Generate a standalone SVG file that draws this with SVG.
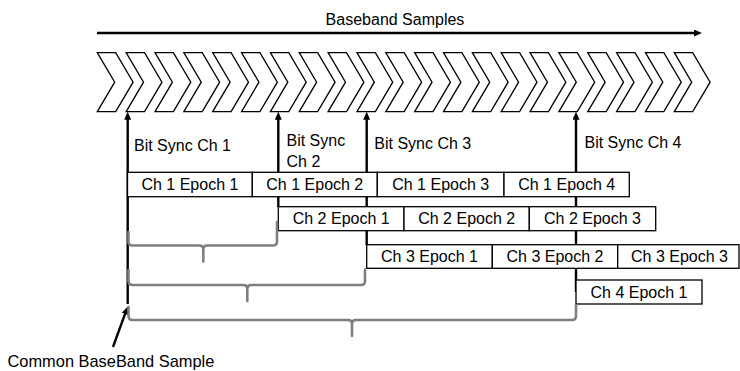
<svg xmlns="http://www.w3.org/2000/svg" xmlns:xlink="http://www.w3.org/1999/xlink" width="740" height="371" viewBox="0 0 740 371">
  <style>
    text { font-family: "Liberation Sans", Arial, sans-serif; font-size: 16px; fill: #000; }
    .mid { text-anchor: middle; }
    .box { fill: #fff; stroke: #000; stroke-width: 1.3; }
    .chev { fill: #fff; stroke: #000; stroke-width: 1.3; stroke-linejoin: miter; }
    .wire { fill: none; stroke: #000; stroke-width: 2.4; }
    .brace { fill: none; stroke: #7f7f7f; stroke-width: 2.6; stroke-linecap: round; stroke-linejoin: round; }
  </style>
  <defs>
    <marker id="head" viewBox="0 0 8 7" markerWidth="8" markerHeight="7" markerUnits="userSpaceOnUse" refX="2" refY="3.5" orient="auto">
      <path d="M0,0 L8,3.5 L0,7 Z" fill="#000"/>
    </marker>
    <polygon id="chevron" class="chev" points="0,0 18.4,0 35.8,29.5 18.4,59 0,59 17.4,29.5"/>
  </defs>

  <rect width="740" height="371" fill="#fff"/>

  <!-- time axis -->
  <g id="axis">
    <text class="mid" x="395" y="25">Baseband Samples</text>
    <line class="wire" x1="97" y1="33" x2="696" y2="33" marker-end="url(#head)"/>
  </g>

  <!-- stream of samples -->
  <g id="samples" transform="translate(0,52.7)">
    <use xlink:href="#chevron" x="97.3"/>
    <use xlink:href="#chevron" x="126.15"/>
    <use xlink:href="#chevron" x="155"/>
    <use xlink:href="#chevron" x="183.85"/>
    <use xlink:href="#chevron" x="212.7"/>
    <use xlink:href="#chevron" x="241.55"/>
    <use xlink:href="#chevron" x="270.4"/>
    <use xlink:href="#chevron" x="299.25"/>
    <use xlink:href="#chevron" x="328.1"/>
    <use xlink:href="#chevron" x="356.95"/>
    <use xlink:href="#chevron" x="385.8"/>
    <use xlink:href="#chevron" x="414.65"/>
    <use xlink:href="#chevron" x="443.5"/>
    <use xlink:href="#chevron" x="472.35"/>
    <use xlink:href="#chevron" x="501.2"/>
    <use xlink:href="#chevron" x="530.05"/>
    <use xlink:href="#chevron" x="558.9"/>
    <use xlink:href="#chevron" x="587.75"/>
    <use xlink:href="#chevron" x="616.6"/>
    <use xlink:href="#chevron" x="645.45"/>
    <use xlink:href="#chevron" x="674.3"/>
  </g>

  <!-- bit sync markers -->
  <g id="connectors">
    <line class="wire" x1="127.7" y1="304" x2="127.7" y2="117.7" marker-end="url(#head)"/>
    <line class="wire" x1="278.3" y1="207" x2="278.3" y2="117.7" marker-end="url(#head)"/>
    <line class="wire" x1="366.7" y1="245" x2="366.7" y2="117.7" marker-end="url(#head)"/>
    <line class="wire" x1="576" y1="292" x2="576" y2="117.7" marker-end="url(#head)"/>
    <line class="wire" x1="113" y1="347" x2="125.7" y2="312.1" marker-end="url(#head)"/>
  </g>

  <g id="sync-labels">
    <text x="134" y="151">Bit Sync Ch 1</text>
    <text x="286.5" y="145.5">Bit Sync</text>
    <text x="286.5" y="167">Ch 2</text>
    <text x="374.3" y="149">Bit Sync Ch 3</text>
    <text x="584.5" y="147.5">Bit Sync Ch 4</text>
  </g>

  <!-- channel 1 epochs -->
  <g id="ch1-epoch1"><rect class="box" x="127.5" y="172.3" width="124.8" height="24.4"/><text class="mid" x="189.9" y="190.2">Ch 1 Epoch 1</text></g>
  <g id="ch1-epoch2"><rect class="box" x="252.3" y="172.3" width="125" height="24.4"/><text class="mid" x="314.8" y="190.2">Ch 1 Epoch 2</text></g>
  <g id="ch1-epoch3"><rect class="box" x="377.3" y="172.3" width="126.7" height="24.4"/><text class="mid" x="440.7" y="190.2">Ch 1 Epoch 3</text></g>
  <g id="ch1-epoch4"><rect class="box" x="504" y="172.3" width="125.3" height="24.4"/><text class="mid" x="566.7" y="190.2">Ch 1 Epoch 4</text></g>

  <!-- channel 2 epochs -->
  <g id="ch2-epoch1"><rect class="box" x="278.3" y="206.7" width="125.7" height="24"/><text class="mid" x="341.2" y="224.4">Ch 2 Epoch 1</text></g>
  <g id="ch2-epoch2"><rect class="box" x="404" y="206.7" width="125.3" height="24"/><text class="mid" x="466.7" y="224.4">Ch 2 Epoch 2</text></g>
  <g id="ch2-epoch3"><rect class="box" x="529.3" y="206.7" width="126.4" height="24"/><text class="mid" x="592.5" y="224.4">Ch 2 Epoch 3</text></g>

  <!-- channel 3 epochs -->
  <g id="ch3-epoch1"><rect class="box" x="366.7" y="244.7" width="125.6" height="23.6"/><text class="mid" x="429.5" y="262.2">Ch 3 Epoch 1</text></g>
  <g id="ch3-epoch2"><rect class="box" x="492.3" y="244.7" width="125.4" height="23.6"/><text class="mid" x="555" y="262.2">Ch 3 Epoch 2</text></g>
  <g id="ch3-epoch3"><rect class="box" x="617.7" y="244.7" width="121.3" height="23.6"/><text class="mid" x="679.5" y="262.2">Ch 3 Epoch 3</text></g>

  <!-- channel 4 epochs -->
  <g id="ch4-epoch1"><rect class="box" x="576" y="280" width="126" height="24"/><text class="mid" x="639" y="297.7">Ch 4 Epoch 1</text></g>

  <!-- offsets from the common sample to each bit sync -->
  <g id="braces">
    <path class="brace" d="M128.5,232 V241.5 Q128.5,245.5 132.5,245.5 H199.3 Q203.3,245.5 203.3,249.5 V261.5 M203.3,249.5 Q203.3,245.5 207.3,245.5 H273 Q277,245.5 277,241.5 V222"/>
    <path class="brace" d="M128.5,270 V281 Q128.5,285 132.5,285 H243.3 Q247.3,285 247.3,289 V301 M247.3,289 Q247.3,285 251.3,285 H361 Q365,285 365,281 V269.5"/>
    <path class="brace" d="M128.5,307 V316 Q128.5,320 132.5,320 H348 Q352,320 352,324 V336 M352,324 Q352,320 356,320 H572 Q576,320 576,316 V305"/>
  </g>

  <g id="common-label">
    <text x="7.5" y="366.5" style="font-size:16.4px">Common BaseBand Sample</text>
  </g>
</svg>
